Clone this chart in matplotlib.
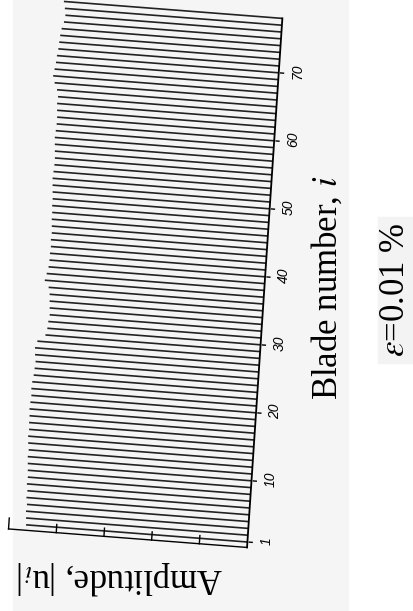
import numpy as np
import matplotlib.pyplot as plt
from matplotlib.collections import LineCollection
from matplotlib.patches import Rectangle
from matplotlib.transforms import Affine2D

plt.rcParams["mathtext.fontset"] = "stix"

# blade response amplitudes (arbitrary units), one per blade
blades = np.arange(1, 79)
amplitude = [
    4.64, 4.65, 4.66, 4.65, 4.67, 4.66, 4.68, 4.67, 4.68, 4.69,
    4.70, 4.69, 4.71, 4.72, 4.71, 4.72, 4.72, 4.73, 4.72, 4.71,
    4.72, 4.71, 4.69, 4.68, 4.67, 4.69, 4.70, 4.66, 4.50, 4.47,
    4.46, 4.44, 4.45, 4.46, 4.47, 4.50, 4.59, 4.56, 4.53, 4.52,
    4.52, 4.51, 4.52, 4.51, 4.52, 4.53, 4.53, 4.54, 4.54, 4.55,
    4.56, 4.57, 4.56, 4.55, 4.55, 4.56, 4.57, 4.58, 4.57, 4.56,
    4.56, 4.57, 4.58, 4.57, 4.60, 4.66, 4.70, 4.68, 4.66, 4.65,
    4.63, 4.62, 4.61, 4.59, 4.55, 4.53, 4.55, 4.58,
]
blade_ticks = [1, 10, 20, 30, 40, 50, 60, 70]
amp_ticks = [1, 2, 3, 4]
amp_max = 5
blade_range = (0.2, 78)

W, H = 413, 611
fig = plt.figure(figsize=(W / 100, H / 100), dpi=100)
ax = fig.add_axes([0, 0, 1, 1])
ax.set_xlim(0, W)
ax.set_ylim(H, 0)
ax.axis("off")

# light panel backgrounds
ax.add_patch(Rectangle((13, 0), 335, H, color="#f5f5f5", zorder=0))
ax.add_patch(Rectangle((378, 217), 35, 146, color="#f3f3f3", zorder=0))

# oblique projection: (amplitude, blade) -> page position
proj = Affine2D(np.array([[-47.7, 0.454, 246.95],
                          [-3.7, -6.8, 548.8],
                          [0.0, 0.0, 1.0]])) + ax.transData

segs = [[(0, b), (a, b)] for b, a in zip(blades, amplitude)]
ax.add_collection(LineCollection(segs, colors="#222222", linewidths=1.2,
                                 transform=proj, zorder=2))

# blade axis (zero amplitude line) with ticks and labels
ax.plot([0, 0], blade_range, color="black", lw=1.3, transform=proj, zorder=3)
for b in blade_ticks:
    ax.plot([-0.04, -0.1], [b, b], color="black", lw=1.0, transform=proj)
    ax.text(-0.4, b + 0.4, str(b), transform=proj, rotation=90,
            ha="center", va="center", fontsize=10, style="italic",
            family="Liberation Sans")

# amplitude axis along the front edge
b0 = blade_range[0]
ax.plot([0, amp_max], [b0, b0], color="black", lw=1.0, transform=proj)
for t in amp_ticks:
    ax.plot([t, t], [b0, b0 + 1.2], color="black", lw=1.0, transform=proj)
ax.plot([amp_max, amp_max], [b0, b0 + 1.6], color="black", lw=1.0,
        transform=proj)

serif = "Liberation Serif"
ax.text(327, 288, r"Blade number, $i$", rotation=90, ha="center",
        va="center", fontsize=25, family=serif)
ax.text(120, 578, r"Amplitude, |u$_i$|", rotation=180, ha="center",
        va="center", fontsize=25, family=serif)
ax.text(396, 290, r"$\varepsilon$=0.01 %", rotation=90, ha="center",
        va="center", fontsize=25, family=serif)

fig.savefig("out.png", dpi=100)
